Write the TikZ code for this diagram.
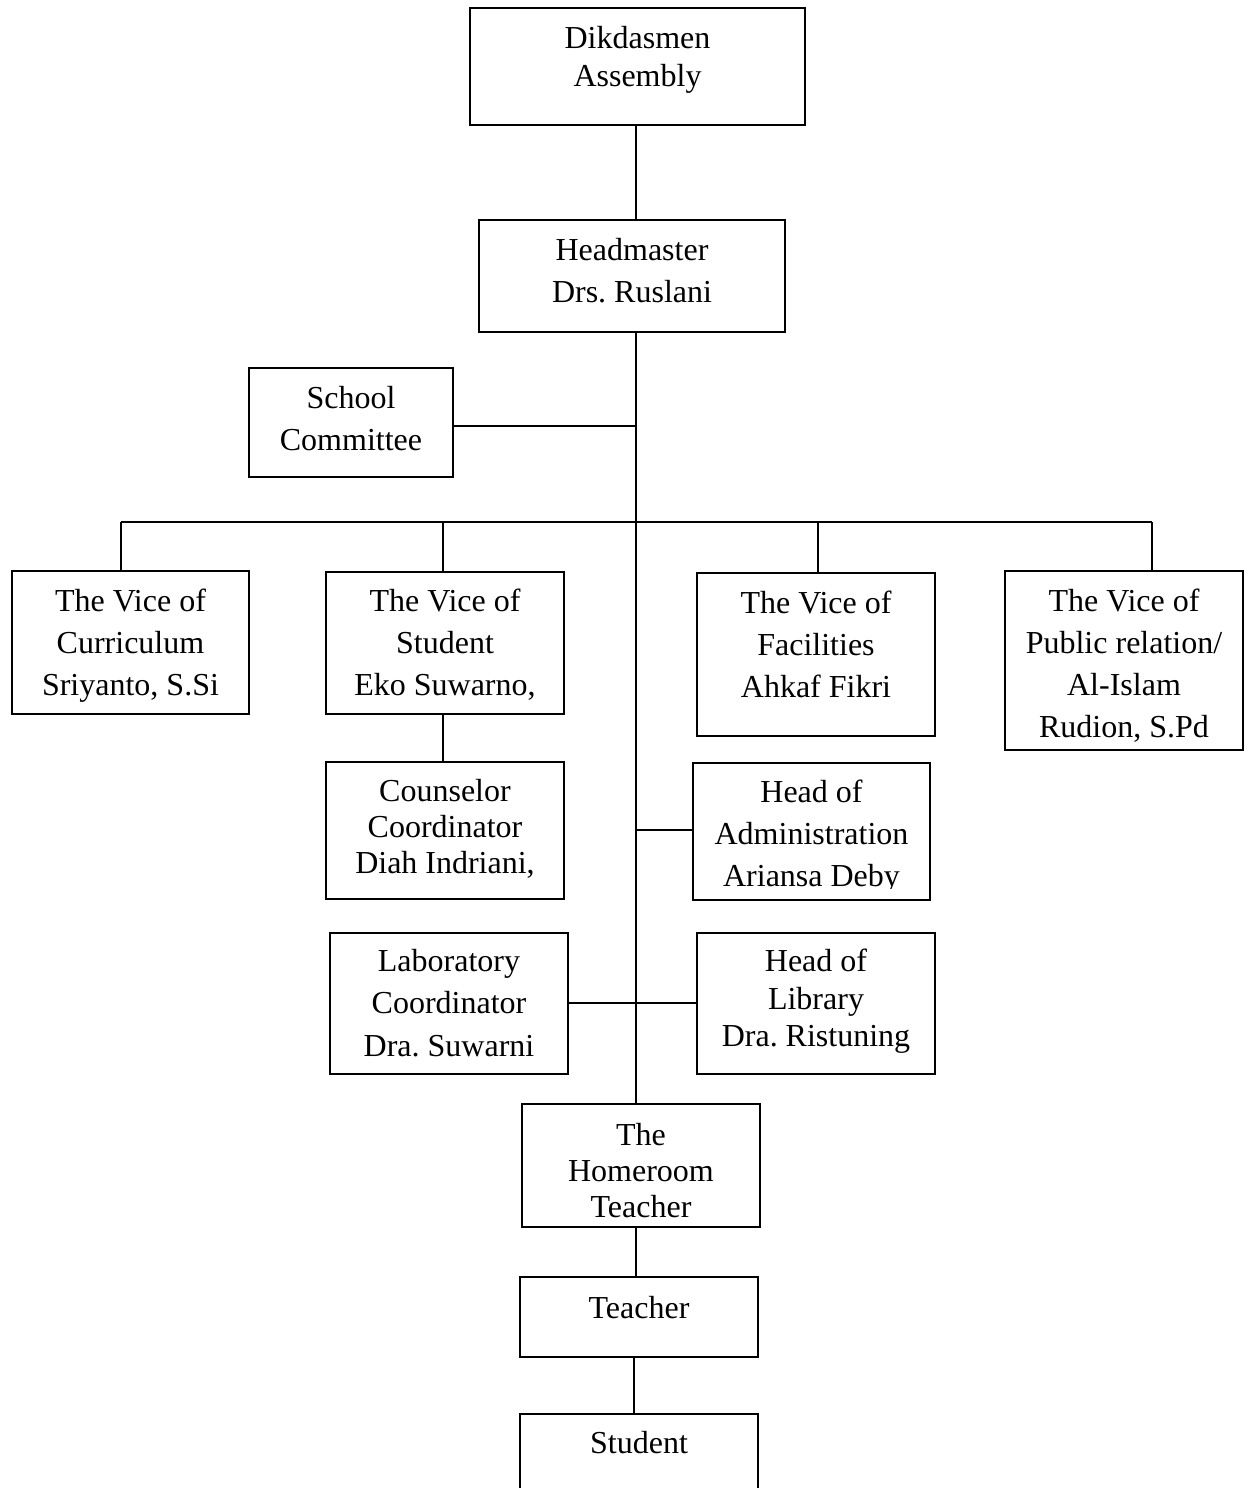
\documentclass[tikz,border=0pt]{standalone}
\usepackage{fontspec}
\setmainfont{Liberation Serif}
\frenchspacing
\newcommand\obox[5]{\node[box, minimum width={(#4-#2)*0.75pt}, minimum height={(#5-#3)*0.75pt}] (#1) at ({(#2+#4)/2},{(#3+#5)/2}) {};}
\tikzset{
  box/.style={draw=black, line width=1.4pt, inner sep=0pt, outer sep=0pt, fill=white},
  txt/.style={align=center, inner sep=0pt, anchor=base, execute at begin node=\frenchspacing},
  ln/.style={line width=1.4pt},
}
\begin{document}
\begin{tikzpicture}[x=0.75pt,y=-0.75pt]
\useasboundingbox (0,0) rectangle (1248,1488);
\clip (0,0) rectangle (1248,1488);
\fill[white] (0,0) rectangle (1248,1488);
% trunk coordinates
\coordinate (T) at (636,0);
\coordinate (bL) at (121,522);
\coordinate (bS) at (443,522);
\coordinate (bF) at (818,522);
\coordinate (bR) at (1152,522);
\coordinate (cJ) at (636,426);
\coordinate (aJ) at (636,830);
% boxes
\obox{dik}{470}{8}{805}{125}
\obox{head}{479}{220}{785}{332}
\obox{com}{249}{368}{453}{477}
\obox{cur}{12}{571}{249}{714}
\obox{stu}{326}{572}{564}{714}
\obox{fac}{697}{573}{935}{736}
\obox{pub}{1005}{571}{1243}{750}
\obox{cou}{326}{762}{564}{899}
\obox{adm}{693}{763}{930}{900}
\obox{lab}{330}{933}{568}{1074}
\obox{lib}{697}{933}{935}{1074}
\obox{home}{522}{1104}{760}{1227}
\obox{tea}{520}{1277}{758}{1357}
\obox{stud}{520}{1414}{758}{1560}
% connectors
\draw[ln] (dik.south -| T) -- (head.north -| T);
\draw[ln] (head.south -| T) -- (home.north -| T);
\draw[ln] (com.east |- cJ) -- (cJ);
\draw[ln] (bL) -- (bR);
\draw[ln] (bL) -- (bL |- cur.north);
\draw[ln] (bS) -- (bS |- stu.north);
\draw[ln] (bF) -- (bF |- fac.north);
\draw[ln] (bR) -- (bR |- pub.north);
\draw[ln] (stu.south -| bS) -- (cou.north -| bS);
\draw[ln] (aJ) -- (adm.west |- aJ);
\draw[ln] (lab.east |- 0,1003) -- (lib.west |- 0,1003);
\draw[ln] (home.south -| T) -- (tea.north -| T);
\draw[ln] (tea.south -| 634,0) -- (stud.north -| 634,0);
% texts (anchored at the baseline of the last line)
\node[txt, font=\fontsize{24}{28.3}\selectfont] (dik-t) at (637.5,86) {Dikdasmen\\Assembly};
\node[txt, font=\fontsize{24}{32}\selectfont] (head-t) at (632,302.7) {Headmaster\\Drs. Ruslani};
\node[txt, font=\fontsize{24}{30.8}\selectfont] (com-t) at (351,450) {School\\Committee};
\node[txt, font=\fontsize{24}{31.2}\selectfont] (cur-t) at (130.5,695) {The Vice of\\Curriculum\\Sriyanto, S.Si};
\node[txt, font=\fontsize{24}{31.2}\selectfont] (stu-t) at (445,695) {The Vice of\\Student\\Eko Suwarno,};
\node[txt, font=\fontsize{24}{31.5}\selectfont] (fac-t) at (816,697) {The Vice of\\Facilities\\Ahkaf Fikri};
\begin{scope}
\clip (1005,571) rectangle (1243,741);
\node[txt, font=\fontsize{24}{31.3}\selectfont] (pub-t) at (1124,737) {The Vice of\\Public relation/\\Al-Islam\\Rudion, S.Pd};
\end{scope}
\node[txt, font=\fontsize{24}{26.8}\selectfont] (cou-t) at (445,873) {Counselor\\Coordinator\\Diah Indriani,};
\begin{scope}
\clip (693,763) rectangle (930,888);
\node[txt, font=\fontsize{24}{31.2}\selectfont] (adm-t) at (811.5,886) {Head of\\Administration\\Ariansa Deby};
\end{scope}
\node[txt, font=\fontsize{24}{31.6}\selectfont] (lab-t) at (449,1056) {Laboratory\\Coordinator\\Dra. Suwarni};
\node[txt, font=\fontsize{24}{28.1}\selectfont] (lib-t) at (816,1046.7) {Head of\\Library\\Dra. Ristuning};
\node[txt, font=\fontsize{24}{27.2}\selectfont] (home-t) at (641,1217.7) {The\\Homeroom\\Teacher};
\node[txt, font=\fontsize{24}{28}\selectfont] (tea-t) at (639,1318) {Teacher};
\node[txt, font=\fontsize{24}{28}\selectfont] (stud-t) at (639,1453) {Student};
\end{tikzpicture}
\end{document}
